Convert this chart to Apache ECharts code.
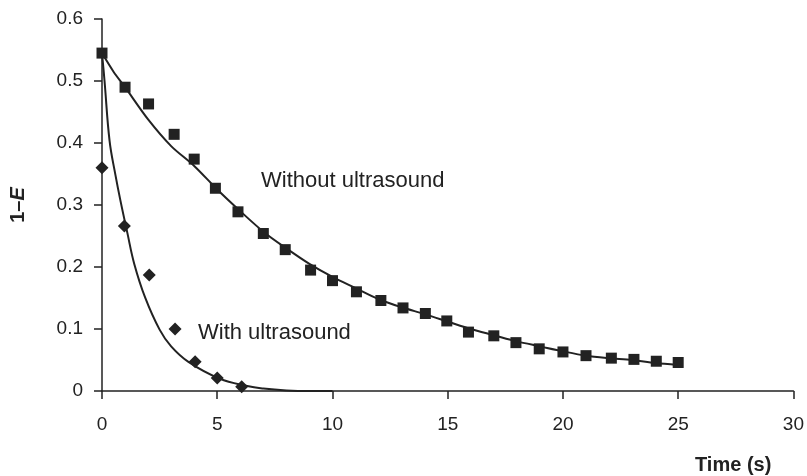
<!DOCTYPE html>
<html>
<head>
<meta charset="utf-8">
<script src="https://cdn.jsdelivr.net/npm/echarts@6/dist/echarts.min.js"></script>
<style>
  html, body { margin: 0; padding: 0; background: #fff; }
  #main { width: 807px; height: 476px; }
</style>
</head>
<body>
<div id="main"></div>
<script>
// measured points, without ultrasound (squares)
const timeWithout = [0, 1, 2.02, 3.13, 4, 4.92, 5.9, 7, 7.95, 9.05, 10, 11.04, 12.1, 13.06, 14.03, 14.96, 15.9, 17, 17.96, 18.97, 20, 21, 22.1, 23.08, 24.05, 25];
const valWithout = [0.545, 0.490, 0.463, 0.414, 0.374, 0.327, 0.289, 0.254, 0.228, 0.195, 0.178, 0.160, 0.146, 0.134, 0.125, 0.113, 0.095, 0.089, 0.078, 0.068, 0.063, 0.057, 0.053, 0.051, 0.048, 0.046];

// measured points, with ultrasound (diamonds)
const timeWith = [0, 0.97, 2.05, 3.17, 4.04, 5, 6.06];
const valWith = [0.360, 0.266, 0.187, 0.100, 0.047, 0.021, 0.007];

// model curves
const fitTimeWithout = [0, 0.5, 1, 2, 3, 4, 5, 6, 7, 8, 9, 10, 11, 12, 13, 14, 15, 16, 17, 18, 19, 20, 21, 22, 23, 24, 25];
const fitWithout = [0.545, 0.515, 0.490, 0.438, 0.395, 0.363, 0.325, 0.290, 0.257, 0.230, 0.205, 0.184, 0.166, 0.148, 0.135, 0.124, 0.112, 0.100, 0.090, 0.080, 0.072, 0.064, 0.057, 0.053, 0.050, 0.045, 0.042];

const fitTimeWith = [0, 0.11, 0.33, 0.58, 0.8, 1.1, 1.4, 1.87, 2.5, 3, 3.75, 5.1, 6.3, 7, 8, 9, 10];
const fitWith = [0.545, 0.500, 0.403, 0.349, 0.307, 0.255, 0.205, 0.151, 0.099, 0.072, 0.047, 0.020, 0.008, 0.004, 0.001, 0, 0];

const zip = (xs, ys) => xs.map((x, i) => [x, ys[i]]);

const ink = '#222';
const font = 'Liberation Sans, Arial, sans-serif';

const chart = echarts.init(document.getElementById('main'));

chart.setOption({
  animation: false,
  backgroundColor: '#fff',
  grid: { left: 102, right: 12, top: 19, bottom: 85 },
  xAxis: {
    type: 'value',
    min: 0,
    max: 30,
    interval: 5,
    axisLine: { lineStyle: { color: ink, width: 1.5 } },
    axisTick: { show: true, length: 8, lineStyle: { color: ink, width: 1.5 } },
    axisLabel: { color: ink, fontSize: 19, fontFamily: font, margin: 24 },
    splitLine: { show: false }
  },
  yAxis: {
    type: 'value',
    min: 0,
    max: 0.6,
    interval: 0.1,
    name: '{b|1–}{i|E}',
    nameLocation: 'middle',
    nameGap: 74,
    nameTextStyle: {
      rich: {
        b: { fontWeight: 'bold', fontSize: 20, fontFamily: font, color: ink },
        i: { fontWeight: 'bold', fontStyle: 'italic', fontSize: 20, fontFamily: font, color: ink }
      }
    },
    axisLine: { show: true, lineStyle: { color: ink, width: 1.5 } },
    axisTick: { show: true, length: 8, lineStyle: { color: ink, width: 1.5 } },
    axisLabel: {
      color: ink, fontSize: 19, fontFamily: font, margin: 19,
      formatter: v => (v === 0 ? '0' : v.toFixed(1))
    },
    splitLine: { show: false }
  },
  graphic: [
    { type: 'text', left: 261, top: 170, style: { text: 'Without ultrasound', fontSize: 22, fontFamily: font, fill: ink } },
    { type: 'text', left: 198, top: 322, style: { text: 'With ultrasound', fontSize: 22, fontFamily: font, fill: ink } },
    { type: 'text', left: 695, top: 455, style: { text: 'Time (s)', fontSize: 20, fontWeight: 'bold', fontFamily: font, fill: ink } }
  ],
  series: [
    {
      name: 'Without ultrasound model',
      type: 'line',
      data: zip(fitTimeWithout, fitWithout),
      smooth: 0.3,
      showSymbol: false,
      lineStyle: { color: ink, width: 2 },
      z: 2
    },
    {
      name: 'With ultrasound model',
      type: 'line',
      data: zip(fitTimeWith, fitWith),
      smooth: 0.4,
      showSymbol: false,
      lineStyle: { color: ink, width: 2 },
      z: 2
    },
    {
      name: 'Without ultrasound',
      type: 'scatter',
      data: zip(timeWithout, valWithout),
      symbol: 'rect',
      symbolSize: 11,
      itemStyle: { color: ink, opacity: 1 },
      z: 3
    },
    {
      name: 'With ultrasound',
      type: 'scatter',
      data: zip(timeWith, valWith),
      symbol: 'diamond',
      symbolSize: [13, 13],
      itemStyle: { color: ink, opacity: 1 },
      z: 3
    }
  ]
});
</script>
</body>
</html>
